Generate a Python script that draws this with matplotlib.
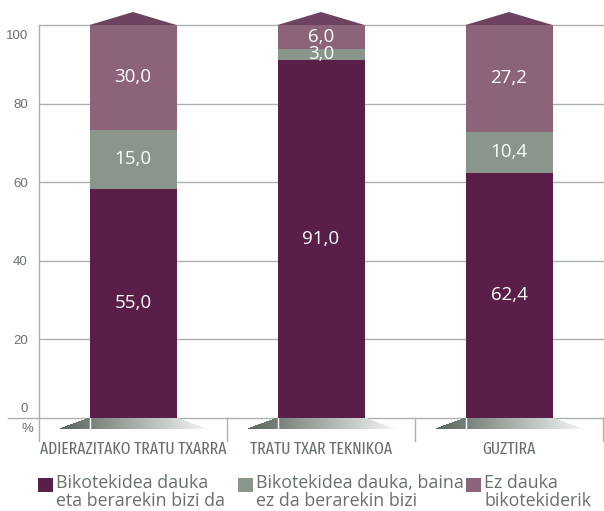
import matplotlib
matplotlib.use("Agg")
import matplotlib.pyplot as plt
from matplotlib.patches import Rectangle, Polygon
from matplotlib.colors import to_rgb
from matplotlib.transforms import ScaledTranslation

categories = ["ADIERAZITAKO TRATU TXARRA", "TRATU TXAR TEKNIKOA", "GUZTIRA"]
series_labels = ["Bikotekidea dauka\neta berarekin bizi da",
                 "Bikotekidea dauka, baina\nez da berarekin bizi",
                 "Ez dauka\nbikotekiderik"]
# segment heights as drawn in the picture
living_with = [58.3, 91.0, 62.4]
not_living_with = [15.0, 3.0, 10.4]
no_partner = [26.7, 6.0, 27.2]
# values printed on the segments
living_with_lbl = [55.0, 91.0, 62.4]
not_living_with_lbl = [15.0, 3.0, 10.4]
no_partner_lbl = [30.0, 6.0, 27.2]
yticks = [0, 20, 40, 60, 80, 100]

colors = ["#5a1f48", "#8a968c", "#8c6479"]
roof_color = "#6e4360"
line_color = "#a9b2ac"
text_gray = "#66706a"

W, H = 604, 511
fig = plt.figure(figsize=(W / 100, H / 100), dpi=100)
ax = fig.add_axes([39 / W, 1 - 418 / H, 564 / W, 393 / H])
ax.set_xlim(-0.5, 2.5)
ax.set_ylim(0, 100)
for s in ax.spines.values():
    s.set_visible(False)

px_x = 1 / 188   # category units per pixel
px_y = 100 / 393  # value units per pixel

# grid + frame lines
for t in yticks[1:]:
    ax.plot([-0.5, 2.5], [t, t], color=line_color, lw=1, clip_on=False, zorder=1)
ax.plot([-0.5 - 31 * px_x, 2.5], [0, 0], color=line_color, lw=1, clip_on=False, zorder=1)
ax.plot([-0.5, -0.5], [100, -23 * px_y], color=line_color, lw=1, clip_on=False, zorder=1)
for xs in [0.5, 1.5, 2.5]:
    ax.plot([xs, xs], [0, -23 * px_y], color=line_color, lw=1, clip_on=False, zorder=1)

x = list(range(len(categories)))
bw = 87 / 188
stacks = [(living_with, living_with_lbl), (not_living_with, not_living_with_lbl),
          (no_partner, no_partner_lbl)]
bottom = [0.0] * len(x)
for (vals, lbls), col in zip(stacks, colors):
    ax.bar(x, vals, bw, bottom=bottom, color=col, zorder=3)
    for xi, v, b, l in zip(x, vals, bottom, lbls):
        ax.text(xi, b + v / 2, f"{l:.1f}".replace(".", ","), color="white",
                ha="center", va="center", fontsize=13.5, family="Open Sans", zorder=5)
    bottom = [b + v for b, v in zip(bottom, vals)]

# roofs on top, gradient shadows under the bars
dark = to_rgb("#56635a")
light = to_rgb("#f2f4f2")
depth = 11 * px_y
extra = 30 * px_x
n = 120
for xi in x:
    ax.add_patch(Polygon([(xi - bw / 2, 100), (xi, 100 + 13 * px_y), (xi + bw / 2, 100)],
                         closed=True, color=roof_color, clip_on=False, zorder=3, lw=0))
    x0, x1 = xi - bw / 2 - extra, xi + bw / 2 + extra

    def top_y(xx):
        if xx < xi - bw / 2:
            return -depth * (1 - (xx - x0) / extra)
        if xx > xi + bw / 2:
            return -depth * (1 - (x1 - xx) / extra)
        return 0.0

    step = (x1 - x0) / n
    for k in range(n):
        a = x0 + step * k
        b = min(a + step * 1.6, x1)
        f = k / (n - 1)
        c = tuple(d + (l - d) * f for d, l in zip(dark, light))
        ax.fill([a, b, b, a], [-depth, -depth, top_y(b), top_y(a)],
                color=c, lw=0, antialiased=False, clip_on=False, zorder=2)
    ax.plot([xi - bw / 2, xi - bw / 2], [0, -depth], color="white", lw=1,
            clip_on=False, zorder=2.5)

# y tick labels
ax.set_yticks(yticks)
ax.set_yticklabels([str(t) for t in yticks], color=text_gray, fontsize=9.5,
                   family="Liberation Sans")
ax.tick_params(axis="y", length=0, pad=8)
labels = ax.get_yticklabels()
labels[0].set_transform(labels[0].get_transform() + ScaledTranslation(0, 10 / 100, fig.dpi_scale_trans))
labels[-1].set_transform(labels[-1].get_transform() + ScaledTranslation(0, -9 / 100, fig.dpi_scale_trans))
ax.set_xticks([])
fig.text(27 / W, 1 - 429 / H, "%", color=text_gray, fontsize=9.5, family="Liberation Sans",
         ha="center", va="center")

for xi, cat in zip(x, categories):
    ax.text(xi, -31 * px_y, cat, ha="center", va="center", color=text_gray,
            fontsize=12.2, family="Fira Sans Extra Condensed", clip_on=False)

# legend
legend_x = [38, 238, 466]
for lx, lab, col in zip(legend_x, series_labels, colors):
    fig.add_artist(Rectangle((lx / W, 1 - 492 / H), 15 / W, 14 / H,
                             transform=fig.transFigure, color=col, lw=0))
    fig.text((lx + 18) / W, 1 - 474 / H, lab, color=text_gray, fontsize=12.8,
             family="Open Sans", va="top", ha="left", linespacing=1.0)

fig.savefig("out.png", dpi=100)
